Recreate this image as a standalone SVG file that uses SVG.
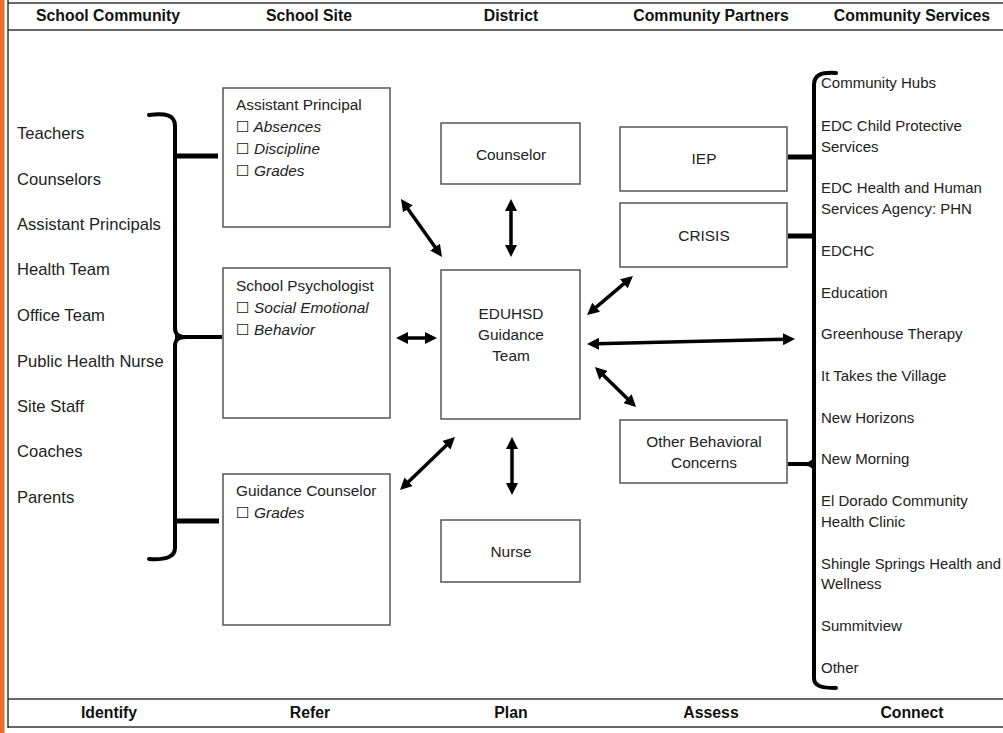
<svg xmlns="http://www.w3.org/2000/svg" width="1003" height="733" viewBox="0 0 1003 733">
<style>
.hd{font-family:"Liberation Sans",Arial,sans-serif;font-size:15.8px;font-weight:bold;fill:#111;text-anchor:middle}
.t{font-family:"Liberation Sans",Arial,sans-serif;font-size:15.4px;fill:#222}
.l{font-size:16.6px}
.r{font-size:15px}
.c{text-anchor:middle}
.i{font-style:italic}
.cb{font-family:"DejaVu Sans",sans-serif;font-style:normal}
.box{fill:#fff;stroke:#555;stroke-width:1.5}
.rule{stroke:#333;stroke-width:1.5}
.br{fill:none;stroke:#000;stroke-width:4;stroke-linecap:round}
.arm{stroke:#000;stroke-width:5}
.ar{stroke:#000;stroke-width:3.5;fill:none;marker-start:url(#ah);marker-end:url(#ah)}
</style>
<defs>
<marker id="ah" markerUnits="userSpaceOnUse" viewBox="0 0 12 12" markerWidth="12" markerHeight="12" refX="3" refY="6" orient="auto-start-reverse">
<path d="M0,0 L12,6 L0,12 z" fill="#000"/>
</marker>
</defs>
<rect x="0" y="0" width="1003" height="733" fill="#fff"/>
<rect x="0" y="0" width="4.5" height="733" fill="#F26B21"/>
<g id="frame">
<line class="rule" x1="8" y1="0" x2="8" y2="728"/>
<line class="rule" x1="8" y1="3" x2="1003" y2="3"/>
<line class="rule" x1="8" y1="30" x2="1003" y2="30"/>
<line class="rule" x1="8" y1="699" x2="1003" y2="699"/>
<line class="rule" x1="8" y1="727" x2="1003" y2="727"/>
</g>
<g id="headers">
<text class="hd" x="108" y="21">School Community</text>
<text class="hd" x="309" y="21">School Site</text>
<text class="hd" x="511" y="21">District</text>
<text class="hd" x="711" y="21">Community Partners</text>
<text class="hd" x="912" y="21">Community Services</text>
<text class="hd" x="109" y="718">Identify</text>
<text class="hd" x="310" y="718">Refer</text>
<text class="hd" x="511" y="718">Plan</text>
<text class="hd" x="711" y="718">Assess</text>
<text class="hd" x="912" y="718">Connect</text>
</g>
<g id="school-community">
<text class="t l" x="17" y="139">Teachers</text>
<text class="t l" x="17" y="185">Counselors</text>
<text class="t l" x="17" y="230">Assistant Principals</text>
<text class="t l" x="17" y="275">Health Team</text>
<text class="t l" x="17" y="321">Office Team</text>
<text class="t l" x="17" y="367">Public Health Nurse</text>
<text class="t l" x="17" y="412">Site Staff</text>
<text class="t l" x="17" y="457">Coaches</text>
<text class="t l" x="17" y="503">Parents</text>
</g>
<g id="assistant-principal">
<rect class="box" x="223" y="88" width="167" height="139"/>
<text class="t" x="236" y="110">Assistant Principal</text>
<text class="t i" x="236" y="132"><tspan class="cb">☐</tspan> Absences</text>
<text class="t i" x="236" y="154"><tspan class="cb">☐</tspan> Discipline</text>
<text class="t i" x="236" y="176"><tspan class="cb">☐</tspan> Grades</text>
</g>
<g id="school-psychologist">
<rect class="box" x="223" y="268" width="167" height="150"/>
<text class="t" x="236" y="291">School Psychologist</text>
<text class="t i" x="236" y="313"><tspan class="cb">☐</tspan> Social Emotional</text>
<text class="t i" x="236" y="335"><tspan class="cb">☐</tspan> Behavior</text>
</g>
<g id="guidance-counselor">
<rect class="box" x="223" y="474" width="167" height="151"/>
<text class="t" x="236" y="496">Guidance Counselor</text>
<text class="t i" x="236" y="518"><tspan class="cb">☐</tspan> Grades</text>
</g>
<g id="counselor">
<rect class="box" x="441" y="123" width="139" height="61"/>
<text class="t c" x="511" y="160">Counselor</text>
</g>
<g id="guidance-team">
<rect class="box" x="441" y="270" width="139" height="149"/>
<text class="t c" x="511" y="319">EDUHSD</text>
<text class="t c" x="511" y="340">Guidance</text>
<text class="t c" x="511" y="361">Team</text>
</g>
<g id="nurse">
<rect class="box" x="441" y="520" width="139" height="62"/>
<text class="t c" x="511" y="557">Nurse</text>
</g>
<g id="iep">
<rect class="box" x="620" y="127" width="167" height="64"/>
<text class="t c" x="704" y="164">IEP</text>
</g>
<g id="crisis">
<rect class="box" x="620" y="203" width="167" height="64"/>
<text class="t c" x="704" y="241">CRISIS</text>
</g>
<g id="other-behavioral">
<rect class="box" x="620" y="420" width="167" height="63"/>
<text class="t c" x="704" y="447">Other Behavioral</text>
<text class="t c" x="704" y="468">Concerns</text>
</g>
<g id="community-services">
<text class="t r" x="821" y="88">Community Hubs</text>
<text class="t r" x="821" y="131">EDC Child Protective</text>
<text class="t r" x="821" y="152">Services</text>
<text class="t r" x="821" y="193">EDC Health and Human</text>
<text class="t r" x="821" y="214">Services Agency: PHN</text>
<text class="t r" x="821" y="256">EDCHC</text>
<text class="t r" x="821" y="298">Education</text>
<text class="t r" x="821" y="339">Greenhouse Therapy</text>
<text class="t r" x="821" y="381">It Takes the Village</text>
<text class="t r" x="821" y="423">New Horizons</text>
<text class="t r" x="821" y="464">New Morning</text>
<text class="t r" x="821" y="506">El Dorado Community</text>
<text class="t r" x="821" y="527">Health Clinic</text>
<text class="t r" x="821" y="569" textLength="180" lengthAdjust="spacingAndGlyphs">Shingle Springs Health and</text>
<text class="t r" x="821" y="589">Wellness</text>
<text class="t r" x="821" y="631">Summitview</text>
<text class="t r" x="821" y="673">Other</text>
</g>
<g id="connectors">
<path class="br" d="M149,115 C166,113 175,115 175,126 L175,328 C175,334 178,337 186,337 C178,337 175,340 175,346 L175,548 C175,557 166,560 149,559"/>
<line class="arm" x1="175" y1="156" x2="218" y2="156"/>
<line class="arm" x1="175" y1="337" x2="222" y2="337" style="stroke-width:4"/>
<line class="arm" x1="175" y1="521" x2="219" y2="521"/>
<path class="br" d="M836,73 C821,72 814,75 814,85 L814,678 C814,686 821,688 836,688"/>
<line class="arm" x1="788" y1="157" x2="814" y2="157"/>
<line class="arm" x1="788" y1="236" x2="814" y2="236"/>
<path d="M788,464 L806,464 C810,464 812,463 814,460 M806,464 C810,464 812,465 814,468" fill="none" stroke="#000" stroke-width="4"/>
<line class="ar" x1="406.2" y1="206.4" x2="436.8" y2="249.6"/>
<line class="ar" x1="511" y1="208" x2="511" y2="248"/>
<line class="ar" x1="405" y1="338" x2="428" y2="338"/>
<line class="ar" x1="593.9" y1="309.2" x2="626.1" y2="281.8"/>
<line class="ar" x1="596" y1="343.8" x2="786" y2="339.2"/>
<line class="ar" x1="601.4" y1="373.3" x2="629.6" y2="400.7"/>
<line class="ar" x1="406.5" y1="483.8" x2="448.5" y2="443.2"/>
<line class="ar" x1="512" y1="446" x2="512" y2="486"/>
</g>
</svg>
